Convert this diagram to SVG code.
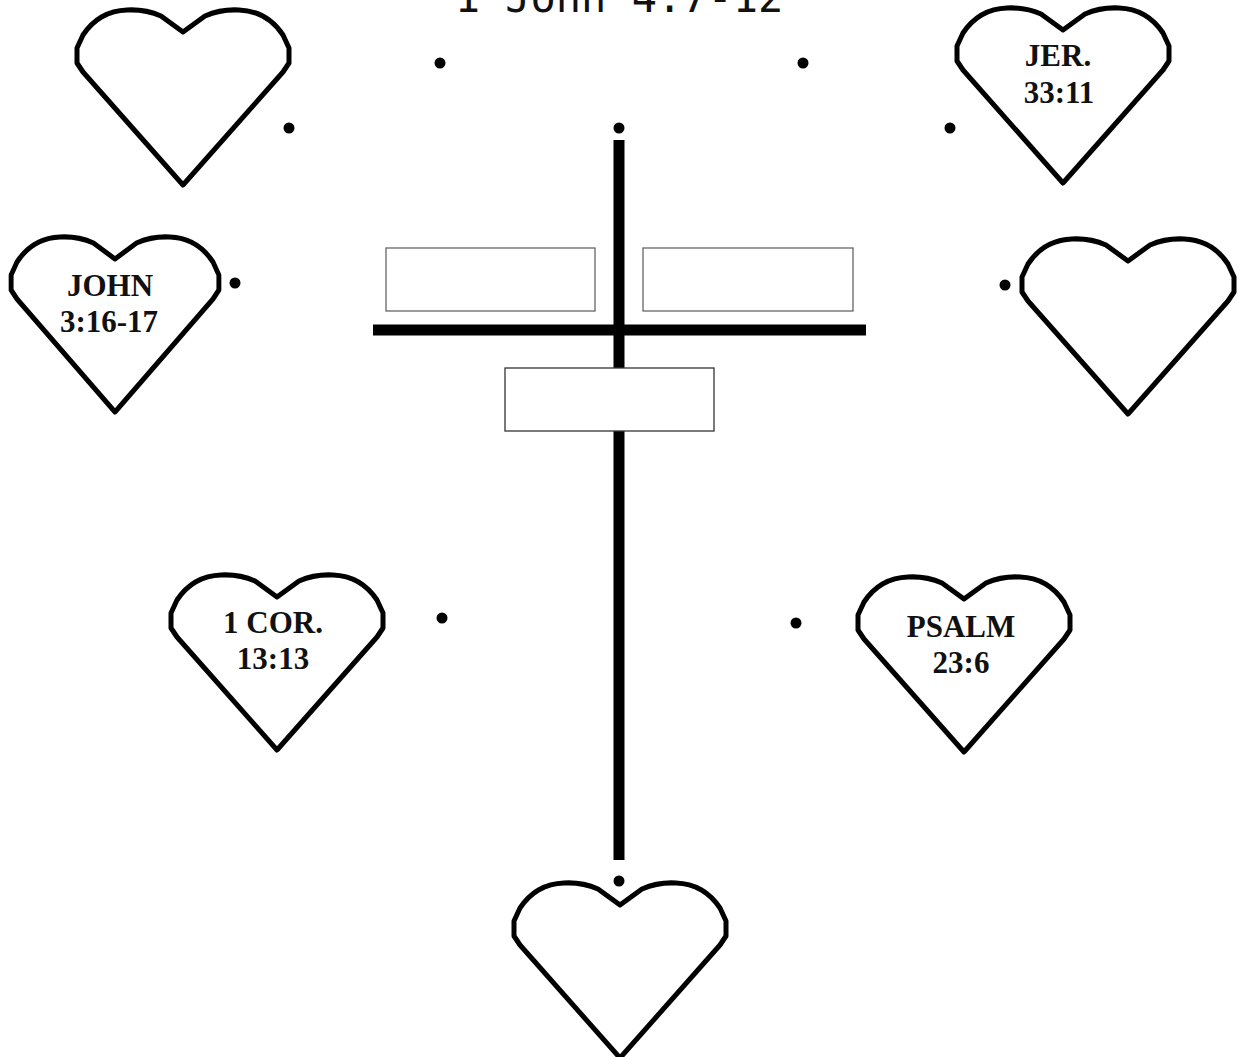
<svg xmlns="http://www.w3.org/2000/svg" width="1239" height="1057" viewBox="0 0 1239 1057">
<style>
.heart{fill:#fff;stroke:#000;stroke-width:5;stroke-linejoin:round}
.lbl{font-family:"Liberation Serif","Times New Roman",serif;font-weight:bold;font-size:31px;fill:#111;text-anchor:middle}
.dot{fill:#000}
.bar{stroke:#000;stroke-width:11;fill:none}
.box{fill:#fff;stroke:#666;stroke-width:1.3}
.box2{fill:#fff;stroke:#333;stroke-width:1.3}
.title{font-family:"DejaVu Sans Mono",monospace;font-size:42px;fill:#111;text-anchor:middle}
</style>
<defs>
<path id="heartShape" class="heart" d="M0 22 L-22 6 Q-38 -1 -56 0 Q-84 1 -100 25 L-106 38 L-106 53 L-100 62 L0 175 L100 62 L106 53 L106 38 L100 25 Q84 1 56 0 Q38 -1 22 6 Z"/>
</defs>
<rect width="1239" height="1057" fill="#fff"/>
<text class="title" x="619" y="12">1 John 4:7-12</text>
<g id="connectors">
<line class="bar" x1="619" y1="140" x2="619" y2="860"/>
<line class="bar" x1="373" y1="330" x2="866" y2="330"/>
</g>
<g id="boxes">
<rect id="box-left" class="box" x="386" y="248" width="209" height="63"/>
<rect id="box-right" class="box" x="643" y="248" width="210" height="63"/>
<rect id="box-center" class="box2" x="505" y="368" width="209" height="63"/>
</g>
<g id="dots">
<circle class="dot" cx="440" cy="63" r="5.5"/>
<circle class="dot" cx="803" cy="63" r="5.5"/>
<circle class="dot" cx="619" cy="128" r="5.5"/>
<circle class="dot" cx="289" cy="128" r="5.5"/>
<circle class="dot" cx="950" cy="128" r="5.5"/>
<circle class="dot" cx="235" cy="283" r="5.5"/>
<circle class="dot" cx="1005" cy="285" r="5.5"/>
<circle class="dot" cx="442" cy="618" r="5.5"/>
<circle class="dot" cx="796" cy="623" r="5.5"/>
<circle class="dot" cx="619" cy="881" r="5.5"/>
</g>
<g id="heart-top-left" transform="translate(183,10)"><use href="#heartShape"/></g>
<g id="heart-jer" transform="translate(1063,8)"><use href="#heartShape"/><text class="lbl" x="-5" y="58">JER.</text><text class="lbl" x="-4" y="95">33:11</text></g>
<g id="heart-john" transform="translate(115,237)"><use href="#heartShape" transform="scale(0.98,1)"/><text class="lbl" x="-5" y="59">JOHN</text><text class="lbl" x="-6" y="95">3:16-17</text></g>
<g id="heart-right-mid" transform="translate(1128,239)"><use href="#heartShape"/></g>
<g id="heart-cor" transform="translate(277,575)"><use href="#heartShape"/><text class="lbl" x="-4" y="58">1 COR.</text><text class="lbl" x="-4" y="94">13:13</text></g>
<g id="heart-psalm" transform="translate(964,577)"><use href="#heartShape"/><text class="lbl" x="-3" y="60">PSALM</text><text class="lbl" x="-3" y="96">23:6</text></g>
<g id="heart-bottom" transform="translate(620,883)"><use href="#heartShape"/></g>
</svg>
